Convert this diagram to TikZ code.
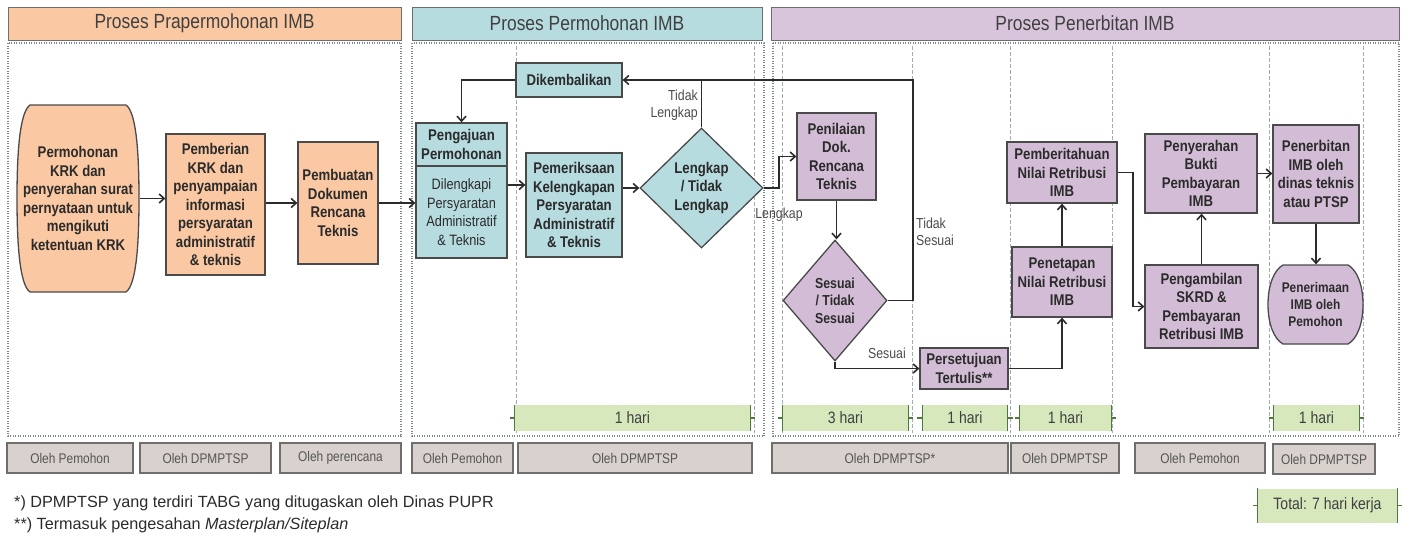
\documentclass[tikz,border=0pt]{standalone}
\usepackage{fontspec}
\setmainfont{Liberation Sans}[FakeStretch=0.85]
\newfontfamily\fnfont{Liberation Sans}
\usetikzlibrary{shapes.geometric,arrows.meta}
\definecolor{cOr}{HTML}{FAC8A2}
\definecolor{cTe}{HTML}{B7DCE0}
\definecolor{cPu}{HTML}{D3BDD6}
\definecolor{cPuH}{HTML}{D9C5DB}
\definecolor{cGr}{HTML}{D8D1CD}
\definecolor{cGn}{HTML}{D7E8BC}
\definecolor{cGnD}{HTML}{4E7A3E}
\definecolor{cBd}{HTML}{4A4A4A}
\definecolor{cTx}{HTML}{2B2B2B}
\definecolor{cDot}{HTML}{7E8994}
\definecolor{cDash}{HTML}{A3ADB7}
\tikzset{
 hdr/.style={draw=cBd!80, line width=0.9pt, font=\fontsize{20.5}{24}\selectfont, text=cTx!90},
 panel/.style={draw=cDot, line width=2.2pt, dash pattern=on 1pt off 1.5pt},
 lane/.style={draw=cDash, line width=0.8pt, dash pattern=on 4pt off 2pt},
 box/.style={rectangle, draw=cBd, line width=1.3pt, align=center, text=cTx, inner sep=1pt, font=\bfseries\fontsize{15.5}{18.5}\selectfont},
 shp/.style={draw=cBd, line width=1.3pt},
 dia/.style={diamond, draw=cBd, line width=1.3pt, align=center, text=cTx, inner sep=0pt, font=\bfseries\fontsize{15.5}{18.5}\selectfont},
 lbl/.style={text=cTx!85, font=\fontsize{14.5}{17}\selectfont, align=center, inner sep=0pt},
 arr/.style={draw=cTx, line width=1.7pt, -{Straight Barb[length=5pt,width=9pt,line width=1.6pt]}},
 ln/.style={draw=cTx, line width=1.7pt},
 gbar/.style={fill=cGn, draw=none, font=\fontsize{16.5}{18}\selectfont, text=cTx!90, inner sep=0pt},
 brc/.style={draw=cGnD, line width=1.3pt},
 obar/.style={fill=cGr, draw=cBd!80, line width=1.1pt, font=\fontsize{14}{16}\selectfont, text=cTx!80, inner sep=0pt},
}
\begin{document}
\begin{tikzpicture}[x=1pt,y=-1pt]
\useasboundingbox (0,0) rectangle (1408,538);
% headers
\node[hdr, fill=cOr, minimum width=393, minimum height=33] (h1) at (204.5,23.5) {Proses Prapermohonan IMB};
\node[hdr, fill=cTe, minimum width=350, minimum height=33] (h2) at (587,23.5) {Proses Permohonan IMB};
\node[hdr, fill=cPuH, minimum width=628, minimum height=33] (h3) at (1085,23.5) {Proses Penerbitan IMB};
% panels
\draw[panel] (8,43) rectangle (401,436);
\draw[panel] (412,43) rectangle (764,436);
\draw[panel] (773,43) rectangle (1399,436);
\foreach \x in {516,754,782,912,1010,1112,1269,1363} \draw[lane] (\x,46) -- (\x,433);
% green bars
\node[gbar, minimum width=235, minimum height=26] (g1) at (632.5,418) {1 hari};
\node[gbar, minimum width=125, minimum height=26] (g2) at (845.5,418) {3 hari};
\node[gbar, minimum width=85, minimum height=26] (g3) at (965,418) {1 hari};
\node[gbar, minimum width=91, minimum height=26] (g4) at (1065.5,418) {1 hari};
\node[gbar, minimum width=85, minimum height=26] (g5) at (1316.5,418) {1 hari};
\node[gbar, minimum width=139, minimum height=34] (g6) at (1327.5,505.5) {Total: 7 hari kerja};
\foreach \g in {g1,g2,g3,g4,g5,g6}
  \draw[brc] (\g.north west) -- (\g.south west) (\g.west) -- ++(-5,0)
             (\g.north east) -- (\g.south east) (\g.east) -- ++(5,0);
% gray bars
\node[obar, minimum width=126, minimum height=30] (b1) at (70,458) {Oleh Pemohon};
\node[obar, minimum width=131, minimum height=30] (b2) at (205.5,458) {Oleh DPMPTSP};
\node[obar, minimum width=121, minimum height=30] (b3) at (340.5,458) {Oleh perencana};
\node[obar, minimum width=101, minimum height=30] (b4) at (462.5,458) {Oleh Pemohon};
\node[obar, minimum width=234, minimum height=30] (b5) at (635,458) {Oleh DPMPTSP};
\node[obar, minimum width=236, minimum height=30] (b6) at (890,458) {Oleh DPMPTSP*};
\node[obar, minimum width=108, minimum height=30] (b7) at (1065,458) {Oleh DPMPTSP};
\node[obar, minimum width=130, minimum height=30] (b8) at (1200,458) {Oleh Pemohon};
\node[obar, minimum width=102, minimum height=30] (b9) at (1324,459) {Oleh DPMPTSP};
% footnotes
\node[anchor=west, font=\fnfont\fontsize{16.2}{18}\selectfont, text=cTx, inner sep=0pt] (f1) at (14,503) {*) DPMPTSP yang terdiri TABG yang ditugaskan oleh Dinas PUPR};
\node[anchor=west, font=\fnfont\fontsize{16.2}{18}\selectfont, text=cTx, inner sep=0pt] (f2) at (14,525) {**) Termasuk pengesahan \textit{Masterplan/Siteplan}};
% special shapes
\draw[shp, fill=cOr] (30,105) -- (126,105) .. controls (136,112) and (139,150) .. (139,198.5)
  .. controls (139,247) and (136,285) .. (126,292) -- (30,292)
  .. controls (20,285) and (17,247) .. (17,198.5) .. controls (17,150) and (20,112) .. (30,105) -- cycle;
\draw[shp, fill=cPu] (1283,265) -- (1348,265) .. controls (1357,270) and (1363,285) .. (1363,304.5)
  .. controls (1363,324) and (1357,339) .. (1348,344) -- (1283,344)
  .. controls (1274,339) and (1268,324) .. (1268,304.5) .. controls (1268,285) and (1274,270) .. (1283,265) -- cycle;
% panel 1 nodes
\node[box, draw=none, minimum width=122, minimum height=187] (n1) at (78,198.5) {Permohonan\\KRK dan\\penyerahan surat\\pernyataan untuk\\mengikuti\\ketentuan KRK};
\node[box, fill=cOr, minimum width=99, minimum height=141] (n2) at (215.5,204.5) {Pemberian\\KRK dan\\penyampaian\\informasi\\persyaratan\\administratif\\\& teknis};
\node[box, fill=cOr, minimum width=80, minimum height=122] (n3) at (338,203) {Pembuatan\\Dokumen\\Rencana\\Teknis};
% panel 2 nodes
\node[box, fill=cTe, minimum width=91, minimum height=135] (pj) at (461.5,190.5) {};
\node[box, draw=none] (pjt) at (461.5,144.5) {Pengajuan\\Permohonan};
\node[box, draw=none, font=\fontsize{15}{18.5}\selectfont] (pjb) at (461.5,212) {Dilengkapi\\Persyaratan\\Administratif\\\& Teknis};
\coordinate (pjd) at (461.5,166);
\draw[shp] (pjd -| pj.west) -- (pjd -| pj.east);
\node[box, fill=cTe, minimum width=106, minimum height=34] (dk) at (569,80) {Dikembalikan};
\node[box, fill=cTe, minimum width=96, minimum height=104] (pm) at (574,205) {Pemeriksaan\\Kelengkapan\\Persyaratan\\Administratif\\\& Teknis};
\node[dia, fill=cTe, minimum width=123, minimum height=120] (dl) at (701.5,188) {Lengkap\\/ Tidak\\Lengkap};
% panel 3 nodes
\node[box, fill=cPu, minimum width=79, minimum height=87] (pn) at (836.5,156.5) {Penilaian\\Dok.\\Rencana\\Teknis};
\node[dia, fill=cPu, minimum width=104, minimum height=121, font=\bfseries\fontsize{14.5}{17.5}\selectfont] (ds) at (835,300.5) {Sesuai\\/ Tidak\\Sesuai};
\node[box, fill=cPu, minimum width=88, minimum height=41] (ps) at (964,368.5) {Persetujuan\\Tertulis**};
\node[box, fill=cPu, minimum width=110, minimum height=61] (pb) at (1062,172.5) {Pemberitahuan\\Nilai Retribusi\\IMB};
\node[box, fill=cPu, minimum width=100, minimum height=70] (pt) at (1062,282) {Penetapan\\Nilai Retribusi\\IMB};
\node[box, fill=cPu, minimum width=112, minimum height=79] (py) at (1201,173.5) {Penyerahan\\Bukti\\Pembayaran\\IMB};
\node[box, fill=cPu, minimum width=113, minimum height=83] (pg) at (1201.5,306.5) {Pengambilan\\SKRD \&\\Pembayaran\\Retribusi IMB};
\node[box, fill=cPu, minimum width=86, minimum height=98] (pe) at (1316,174) {Penerbitan\\IMB oleh\\dinas teknis\\atau PTSP};
\node[box, draw=none, minimum width=95, minimum height=79, font=\bfseries\fontsize{14}{17}\selectfont] (pr) at (1315.5,304.5) {Penerimaan\\IMB oleh\\Pemohon};
% labels
\node[lbl, anchor=east, align=right] (lTL) at (698,105.5) {Tidak\\Lengkap};
\node[lbl] (lL) at (779,215) {Lengkap};
\node[lbl, anchor=west, align=left] (lTS) at (916,231.5) {Tidak\\Sesuai};
\node[lbl, anchor=east] (lS) at (906,353) {Sesuai};
% connectors
\draw[arr] (n1.east) -- (n1.east -| n2.west);
\draw[arr] (n2.east |- n3.west) -- (n3.west);
\draw[arr] (n3.east) -- (n3.east -| pj.west);
\draw[arr] (dk.west) -| (pj.north);
\draw[arr] ([yshift=5.5pt]pj.east) -- ([yshift=5.5pt]pj.east -| pm.west);
\draw[arr] (pm.east |- dl.west) -- (dl.west);
\draw[ln] (dl.north) -- (dl.north |- dk.east);
\coordinate (tr) at (913,80);
\draw[arr] (ds.east) -| (tr) -- (dk.east);
\draw[arr] (dl.east) -- ++(15,0) |- (pn.west);
\draw[arr] (pn.south) -- (pn.south |- ds.north);
\draw[arr] (ds.south) |- (ps.west);
\draw[arr] (ps.east) -| (pt.south);
\draw[arr] (pt.north) -- (pt.north |- pb.south);
\draw[arr] (pb.east) -- ++(15,0) |- (pg.west);
\draw[arr] (pg.north) -- (pg.north |- py.south);
\draw[arr] (py.east) -- (py.east -| pe.west);
\draw[arr] (pe.south) -- (pe.south |- pr.north);
\end{tikzpicture}
\end{document}
